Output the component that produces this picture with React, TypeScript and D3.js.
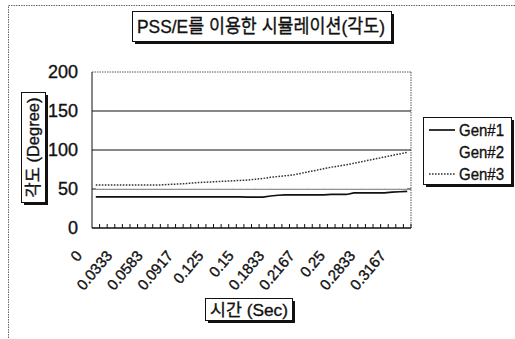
import React from "react";
import * as d3 from "d3";

const categories: string[] = [
  "0", "0.0083", "0.0167", "0.025", "0.0333", "0.0333", "0.0417", "0.05", "0.0583", "0.0667",
  "0.075", "0.0833", "0.0917", "0.1", "0.1083", "0.1167", "0.125", "0.1333", "0.1417", "0.15",
  "0.15", "0.1583", "0.1667", "0.175", "0.1833", "0.1917", "0.2", "0.2083", "0.2167", "0.225",
  "0.2333", "0.2417", "0.25", "0.2583", "0.2667", "0.275", "0.2833", "0.2917", "0.3", "0.3083",
  "0.3167", "0.325",
];

const gen1: number[] = [
  40, 40, 40, 40, 40, 40, 40, 40, 40, 40,
  40, 40, 40, 40, 40, 40, 40, 40, 40, 40,
  39.5, 39.5, 39.5, 41, 42, 42.5, 42.5, 42.5, 42.5, 42.5,
  42.5, 43, 43, 43, 45, 45, 45, 45, 45, 46,
  46.5, 47,
];
const gen2: number[] = [
  50.5, 50.5, 50.5, 50.5, 50.5, 50.5, 50.5, 50.5, 50.5, 50.5,
  50.5, 50.5, 50.5, 50.5, 50.5, 50.5, 50.5, 50.5, 50.5, 50.5,
  50.5, 50.5, 50.5, 50.5, 50.5, 50.5, 50.5, 50.5, 50.5, 50.5,
  50.5, 50.5, 50.5, 50.5, 50.5, 50.5, 50.5, 50.5, 50.5, 50.5,
  50.5, 50.5,
];
const gen3: number[] = [
  55, 55, 55, 55, 55, 55, 55, 55, 55, 55.5,
  56, 56.5, 57, 58, 58.5, 59, 59.5, 60, 60.5, 61,
  61.5, 62.5, 63.5, 65, 66, 67, 68, 70, 72, 74,
  76, 78, 79.5, 81, 83, 85, 87, 89, 91, 93,
  95, 97,
];

const yTicks: number[] = [0, 50, 100, 150, 200];
const gridValues: number[] = [50, 100, 150];
const labelEvery = 4;

const seriesNames: string[] = ["Gen#1", "Gen#2", "Gen#3"];
const seriesData: number[][] = [gen1, gen2, gen3];
const seriesStroke: string[] = ["#111", "#eeeeee", "#333"];
const seriesDash: string[] = ["none", "none", "1.6,1.4"];
const seriesWidth: number[] = [1.7, 1, 1.5];

const title = "PSS/E를 이용한 시뮬레이션(각도)";
const yTitle = "각도 (Degree)";
const xTitle = "시간 (Sec)";

const FONT = "'Liberation Sans', Arial, 'Noto Sans CJK KR', sans-serif";
const TXT = { fill: "#111", stroke: "#111", strokeWidth: 0.35 };

function ShadowBox({ x, y, w, h }: { x: number; y: number; w: number; h: number }) {
  return (
    <g>
      <rect x={x + 2.5} y={y + 2.5} width={w} height={h} fill="#111" />
      <rect x={x} y={y} width={w} height={h} fill="#fff" stroke="#111" strokeWidth={1} />
    </g>
  );
}

export default function App() {
  const W = 515;
  const H = 339;
  const left = 92;
  const right = 411;
  const top = 72;
  const bottom = 228;

  const x = d3
    .scaleBand<number>()
    .domain(categories.map((_, i) => i))
    .range([left, right])
    .paddingInner(0)
    .paddingOuter(0);
  const y = d3.scaleLinear().domain([0, 200]).range([bottom, top]);
  const cx = (i: number) => (x(i) as number) + x.bandwidth() / 2;

  const line = d3
    .line<number>()
    .x((_, i) => cx(i))
    .y((d) => y(d));

  return (
    <svg
      width={W}
      height={H}
      style={{ position: "absolute", left: 0, top: 0, fontFamily: FONT }}
    >
      <rect x={0} y={0} width={W} height={H} fill="#fff" />
      {/* outer chart border */}
      <rect
        x={8.5}
        y={5.5}
        width={520}
        height={360}
        fill="none"
        stroke="#666"
        strokeWidth={1}
        strokeDasharray="1.5,1"
      />

      {/* title */}
      <ShadowBox x={132.5} y={11.5} w={259} h={30} />
      <text
        x={137}
        y={33}
        fontSize={19}
        {...TXT}
        textLength={248}
        lengthAdjust="spacingAndGlyphs"
      >
        {title}
      </text>

      {/* plot area border (dotted) */}
      <line x1={left} x2={right} y1={y(200)} y2={y(200)} stroke="#555" strokeDasharray="1.5,1" />
      <line x1={right} x2={right} y1={top} y2={bottom} stroke="#555" strokeDasharray="1.5,1" />

      {/* gridlines */}
      {gridValues.map((v) => (
        <line key={v} x1={left} x2={right} y1={y(v)} y2={y(v)} stroke="#111" strokeWidth={1.2} />
      ))}

      {/* axes */}
      <line x1={left} x2={left} y1={top} y2={bottom} stroke="#111" />
      <line x1={left} x2={right} y1={bottom} y2={bottom} stroke="#111" strokeWidth={1.3} />
      {categories.map((_, i) => (
        <line
          key={i}
          x1={(x(i) as number) + x.bandwidth()}
          x2={(x(i) as number) + x.bandwidth()}
          y1={bottom}
          y2={bottom - 4}
          stroke="#111"
        />
      ))}

      {/* y tick labels */}
      {yTicks.map((v) => (
        <text
          key={v}
          x={78}
          y={y(v)}
          dy="0.36em"
          textAnchor="end"
          fontSize={18}
          {...TXT}
        >
          {v}
        </text>
      ))}

      {/* x tick labels */}
      {categories.map((c, i) =>
        i % labelEvery === 0 ? (
          <text
            key={i}
            transform={`translate(${cx(i) - 13},${bottom + 28}) rotate(-50)`}
            textAnchor="end"
            fontSize={15}
            {...TXT}
          >
            {c}
          </text>
        ) : null
      )}

      {/* series */}
      {seriesData.map((s, k) => (
        <path
          key={k}
          d={line(s) || ""}
          fill="none"
          stroke={seriesStroke[k]}
          strokeWidth={seriesWidth[k]}
          strokeDasharray={seriesDash[k]}
        />
      ))}

      {/* y title */}
      <ShadowBox x={21.5} y={92.5} w={24} h={110} />
      <text
        transform={`translate(39,147.5) rotate(-90)`}
        textAnchor="middle"
        fontSize={17}
        {...TXT}
        textLength={100}
        lengthAdjust="spacingAndGlyphs"
      >
        {yTitle}
      </text>

      {/* x title */}
      <ShadowBox x={205.5} y={298.5} w={87} h={22} />
      <text
        x={249}
        y={316}
        textAnchor="middle"
        fontSize={17}
        {...TXT}
        textLength={78}
        lengthAdjust="spacingAndGlyphs"
      >
        {xTitle}
      </text>

      {/* legend */}
      <ShadowBox x={423.5} y={117.5} w={88} h={67} />
      {seriesNames.map((n, k) => (
        <g key={n} transform={`translate(0,${130 + k * 22})`}>
          <line
            x1={429}
            x2={455}
            y1={0}
            y2={0}
            stroke={k === 1 ? "#ffffff" : seriesStroke[k]}
            strokeWidth={seriesWidth[k]}
            strokeDasharray={seriesDash[k]}
          />
          <text
            x={459}
            y={0}
            dy="0.36em"
            fontSize={17}
            {...TXT}
            textLength={45}
            lengthAdjust="spacingAndGlyphs"
          >
            {n}
          </text>
        </g>
      ))}
    </svg>
  );
}
